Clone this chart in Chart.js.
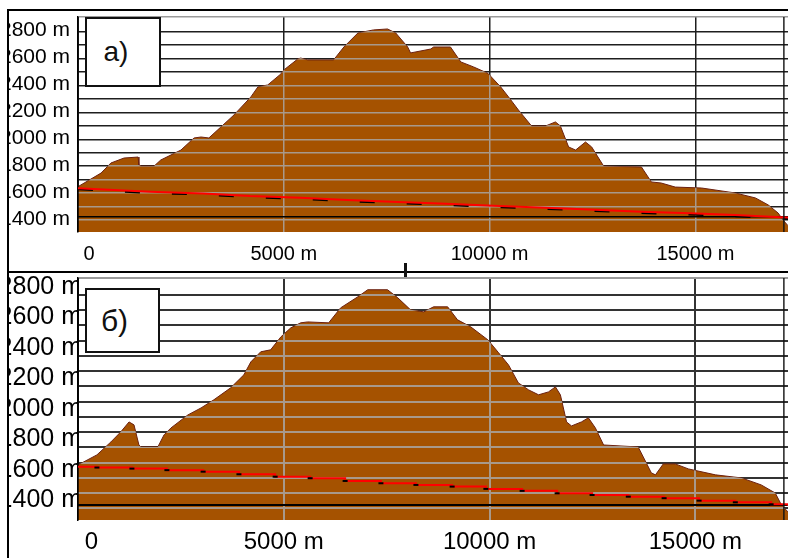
<!DOCTYPE html>
<html>
<head>
<meta charset="utf-8">
<script src="https://cdn.jsdelivr.net/npm/chart.js@4.4.1/dist/chart.umd.min.js"></script>
<style>
  html, body { margin: 0; padding: 0; background: #fff; }
  body { width: 788px; height: 558px; position: relative; overflow: hidden; font-family: 'Liberation Sans', Arial, sans-serif; }
  .panel { position: absolute; left: 9px; width: 779px; }
  #panelA { top: 11px; height: 260px; }
  #panelB { top: 273px; height: 285px; }
  .line { position: absolute; background: #000; }
  .tag { position: absolute; z-index: 2; box-sizing: border-box; border: 2px solid #111; background: #fff;
         display: flex; align-items: center; justify-content: center; color: #111; }
  #tagA { left: 85px; top: 17px; width: 76px; height: 70px; font-size: 28px; padding-right: 14px; }
  #tagB { left: 85px; top: 288px; width: 75px; height: 65px; font-size: 30px; padding-right: 16px; }
</style>
</head>
<body>
<div class="line" style="left:7px;top:9px;width:2px;height:549px"></div>
<div class="line" style="left:7px;top:9px;width:781px;height:2px"></div>
<div class="line" style="left:7px;top:271px;width:781px;height:2px"></div>
<div class="line" style="left:404px;top:263px;width:3px;height:14px;background:#111;z-index:3"></div>

<div class="panel" id="panelA"><canvas id="chartA"></canvas></div>
<div class="panel" id="panelB"><canvas id="chartB"></canvas></div>
<div class="tag" id="tagA">а)</div>
<div class="tag" id="tagB">б)</div>

<script>
// distance along the route (m) and ground elevation (m), panel a)
const distA = [0, 560, 800, 1120, 1460, 1480, 1530, 1850, 2010, 2500, 2820, 2990, 3180, 3470, 3790, 4200, 4370, 4610, 4930, 5000,
    5340, 5410, 5580, 6210, 6460, 6800, 7180, 7520, 7720, 8010, 8080, 8570, 8640, 9050, 9300, 9610, 9960, 10270, 10460, 10700,
    11020, 11360, 11600, 11720, 11920, 12090, 12330, 12480, 12770, 13690, 13930, 14170, 14510, 15150, 15970, 16460, 16770, 17010, 17130, 17250]
const elevA = [1648, 1749, 1824, 1861, 1868, 1809, 1801, 1801, 1846, 1920, 2010, 2017, 2010, 2091, 2181, 2315, 2389, 2404, 2486, 2515,
    2597, 2604, 2590, 2590, 2686, 2790, 2813, 2820, 2790, 2686, 2642, 2671, 2686, 2686, 2575, 2538, 2490, 2389, 2315, 2218,
    2099, 2099, 2129, 2099, 1943, 1920, 1980, 1943, 1801, 1794, 1683, 1675, 1645, 1638, 1601, 1564, 1512, 1452, 1400, 1358]

// panel б)
const distB = [0, 460, 800, 1040, 1240, 1360, 1480, 1530, 1940, 2090, 2260, 2670, 2990, 3300, 3710, 4030, 4200, 4440, 4680, 4930,
    5170, 5410, 5580, 6090, 6380, 6800, 7040, 7520, 7770, 8080, 8400, 8640, 8980, 9220, 9540, 9960, 10220, 10460, 10700, 10950,
    11190, 11430, 11600, 11720, 11870, 11990, 12230, 12400, 12570, 12770, 13610, 13930, 14030, 14220, 14510, 14830, 15490, 16120, 16600, 16940,
    17090, 17250]
const elevB = [1684, 1750, 1835, 1901, 1966, 1947, 1815, 1802, 1802, 1881, 1927, 2012, 2058, 2111, 2190, 2275, 2360, 2426, 2439, 2524,
    2583, 2616, 2622, 2616, 2714, 2787, 2833, 2833, 2780, 2701, 2688, 2721, 2721, 2636, 2590, 2504, 2419, 2340, 2222, 2176,
    2144, 2163, 2196, 2144, 1966, 1940, 1966, 1993, 1927, 1815, 1802, 1632, 1619, 1691, 1691, 1658, 1619, 1599, 1553, 1500,
    1422, 1376]

// red sight line and the black one under it
const lineDistA = [0, 1750, 3040, 4180, 5400, 6540, 7780, 8940, 10090, 11980, 13680, 14870, 15970, 16820, 17250]
const redElevA = [1636, 1610, 1598, 1578, 1566, 1549, 1534, 1521, 1506, 1484, 1462, 1450, 1437, 1424, 1419]
const blackElevA = [1628, 1601, 1589, 1569, 1557, 1540, 1525, 1512, 1497, 1475, 1453, 1441, 1428, 1415, 1410]

const lineDistB = [0, 460, 1310, 2160, 3040, 3910, 4790, 5640, 6490, 7360, 8210, 9090, 9910, 10790, 11640, 12490, 13370, 14240, 15090, 15970, 16840, 17250]
const redElevB = [1673, 1667, 1660, 1650, 1640, 1623, 1607, 1597, 1579, 1564, 1553, 1542, 1527, 1514, 1498, 1487, 1476, 1466, 1450, 1439, 1426, 1417]

const levelA = 1424
const levelB = 1422
const routeEnd = 17150
const distRange = [0, 17250]
const elevRangeA = [1311, 2909]
const elevRangeB = [1323, 2910]

const distTicks = [0, 5000, 10000, 15000]
const distLabels = ['0', '5000 m', '10000 m', '15000 m']
const elevTicks = [1400, 1500, 1600, 1700, 1800, 1900, 2000, 2100, 2200, 2300, 2400, 2500, 2600, 2700, 2800]
const elevLabelTicks = [1400, 1600, 1800, 2000, 2200, 2400, 2600, 2800]

const FONT = "'Liberation Sans', Arial, sans-serif"

const points = (xs, ys) => xs.map((x, i) => ({ x, y: ys[i] }))

// grid lines seen through the ground are drawn light, clipped to the ground area
const profileGrid = {
    id: 'profileGrid',
    afterDatasetDraw(chart, args, opts) {
        if (args.index !== 0) return
        const { ctx, chartArea: area, scales: { x, y } } = chart
        const pts = args.meta.data
        const w = opts.width
        const al = p => Math.round(p - w / 2) + w / 2
        ctx.save()
        ctx.beginPath()
        ctx.moveTo(pts[0].x, area.bottom)
        pts.forEach(p => ctx.lineTo(p.x, p.y))
        ctx.lineTo(pts[pts.length - 1].x, area.bottom)
        ctx.closePath()
        ctx.clip()
        ctx.strokeStyle = opts.color
        ctx.lineWidth = w
        ctx.beginPath()
        elevTicks.forEach(v => {
            const py = al(y.getPixelForValue(v))
            ctx.moveTo(area.left, py)
            ctx.lineTo(area.right, py)
        })
        distTicks.slice(1).forEach(v => {
            const px = al(x.getPixelForValue(v))
            ctx.moveTo(px, area.top)
            ctx.lineTo(px, area.bottom)
        })
        ctx.stroke()
        ctx.restore()
        ctx.save()
        ctx.strokeStyle = '#000'
        ctx.lineWidth = 1.5
        ctx.beginPath()
        ctx.moveTo(area.left, area.top)
        ctx.lineTo(area.left, area.bottom)
        ctx.stroke()
        ctx.restore()
    }
}

const makeProfile = (canvas, o) => new Chart(canvas, {
    type: 'line',
    data: {
        datasets: [{
                data: points(o.dist, o.elev),
                fill: 'start',
                backgroundColor: '#a55200',
                borderColor: '#6b2010',
                borderWidth: 1,
                pointRadius: 0,
                tension: 0,
                order: 10
            },
            {
                data: points(distRange, [o.level, o.level]),
                borderColor: '#000',
                borderWidth: o.gridWidth,
                pointRadius: 0,
                order: 6
            },
            ...o.sight,
            {
                data: points([routeEnd, routeEnd], o.elevRange),
                borderColor: '#111',
                borderWidth: 1.4,
                pointRadius: 0,
                order: 1
            }
        ]
    },
    options: {
        responsive: true,
        maintainAspectRatio: false,
        animation: false,
        layout: { padding: { top: o.top, left: 0, right: 0, bottom: 0 } },
        plugins: {
            legend: { display: false },
            tooltip: { enabled: false },
            profileGrid: { color: '#a8998b', width: o.gridWidth }
        },
        scales: {
            x: {
                type: 'linear',
                min: distRange[0],
                max: distRange[1],
                afterBuildTicks: s => { s.ticks = distTicks.map(value => ({ value })) },
                afterFit: s => { s.height = o.xHeight; s.paddingLeft = 0; s.paddingRight = 0 },
                grid: { color: o.gridColor, lineWidth: o.gridWidth, drawTicks: false, tickLength: 0 },
                border: { display: false },
                ticks: {
                    autoSkip: false,
                    maxRotation: 0,
                    padding: o.xPad,
                    color: '#000',
                    font: { family: FONT, size: o.xFont },
                    callback: (v, i) => i === 0 ? '\u2007\u2007' + distLabels[0] : distLabels[i]
                }
            },
            y: {
                min: o.elevRange[0],
                max: o.elevRange[1],
                afterBuildTicks: s => { s.ticks = [...elevTicks, o.elevRange[1]].map(value => ({ value })) },
                afterFit: s => { s.width = 69; s.paddingTop = 0; s.paddingBottom = 0 },
                grid: {
                    color: c => c.tick && c.tick.value === o.elevRange[1] ? '#9a9a9a' : o.gridColor,
                    lineWidth: o.gridWidth,
                    drawTicks: false,
                    tickLength: 0
                },
                border: { display: true, color: '#000', width: 1.5 },
                ticks: {
                    autoSkip: false,
                    padding: o.yPad,
                    labelOffset: o.yOffset,
                    color: '#000',
                    font: { family: FONT, size: o.yFont },
                    callback: v => elevLabelTicks.includes(v) ? v + ' m' : ''
                }
            }
        }
    },
    plugins: [profileGrid]
})

makeProfile(document.getElementById('chartA'), {
    dist: distA,
    elev: elevA,
    level: levelA,
    elevRange: elevRangeA,
    top: 6,
    xHeight: 39,
    xPad: 10,
    xFont: 20,
    yFont: 21,
    yPad: 8,
    yOffset: -1,
    gridColor: '#1e1e1e',
    gridWidth: 1.5,
    sight: [{
            data: points(lineDistA, blackElevA),
            borderColor: '#000',
            borderWidth: 2,
            borderDash: [15, 32],
            pointRadius: 0,
            order: 4
        },
        {
            data: points(lineDistA, redElevA),
            borderColor: '#ff0000',
            borderWidth: 2,
            pointRadius: 0,
            order: 3
        }
    ]
})

makeProfile(document.getElementById('chartB'), {
    dist: distB,
    elev: elevB,
    level: levelB,
    elevRange: elevRangeB,
    top: 5,
    xHeight: 38,
    xPad: 8,
    xFont: 24,
    yFont: 25,
    yPad: -4,
    yOffset: -8,
    gridColor: '#333',
    gridWidth: 2,
    sight: [{
        data: points(lineDistB, redElevB),
        borderColor: '#ff0000',
        borderWidth: 2,
        stepped: true,
        pointStyle: 'line',
        pointRadius: c => c.dataIndex > 0 && c.dataIndex < lineDistB.length - 1 ? 2.5 : 0,
        pointBorderColor: '#000',
        pointBorderWidth: 2,
        order: 3
    }]
})
</script>
</body>
</html>
